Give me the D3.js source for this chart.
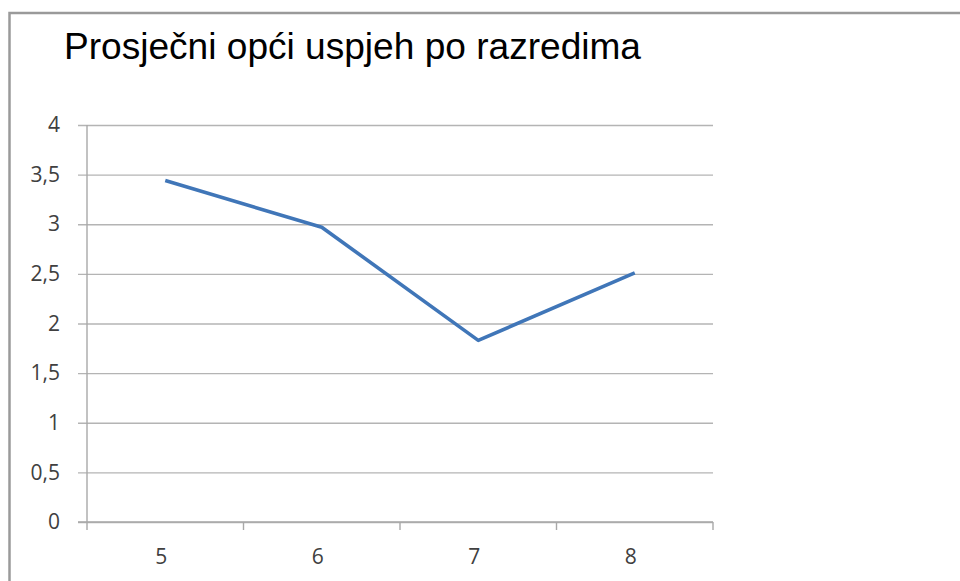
<!DOCTYPE html>
<html>
<head>
<meta charset="utf-8">
<script src="https://cdn.jsdelivr.net/npm/d3@7"></script>
<style>
  html, body { margin: 0; padding: 0; background: #fff; }
  svg { display: block; }
</style>
</head>
<body>
<svg id="chart" width="960" height="581"></svg>
<script>
// Average overall grade per school year (razred)
const title = "Prosječni opći uspjeh po razredima";
const categories = ["5", "6", "7", "8"];
const values = [3.44, 2.97, 1.83, 2.51];
const yTicks = [0, 0.5, 1, 1.5, 2, 2.5, 3, 3.5, 4];

const svg = d3.select("#chart");
const plot = { left: 87, right: 713, top: 125, bottom: 522 };

// Outer chart frame (continues past the right and bottom edges)
svg.append("rect")
  .attr("x", 9.5).attr("y", 13)
  .attr("width", 1000).attr("height", 1000)
  .attr("fill", "#fff")
  .attr("stroke", "#9a9a9a")
  .attr("stroke-width", 2.5);

svg.append("text")
  .attr("x", 64).attr("y", 59)
  .attr("font-family", "Liberation Sans, Arial, sans-serif")
  .attr("font-size", 36)
  .attr("textLength", 577)
  .attr("lengthAdjust", "spacingAndGlyphs")
  .attr("fill", "#000")
  .text(title);

const x = d3.scaleBand().domain(categories)
  .range([plot.left, plot.right]).paddingInner(0).paddingOuter(0);
const y = d3.scaleLinear().domain([0, 4]).range([plot.bottom, plot.top]);

const fmt = d => String(d).replace(".", ",");

// Horizontal gridlines with short left ticks
const yAxis = d3.axisLeft(y).tickValues(yTicks).tickFormat(fmt)
  .tickSize(-(plot.right - plot.left)).tickSizeOuter(0).tickPadding(27);
const gy = svg.append("g").attr("transform", `translate(${plot.left},0)`).call(yAxis);
gy.select(".domain").remove();
gy.selectAll(".tick line")
  .attr("x1", -9)
  .attr("stroke", "#b4b4b4").attr("stroke-width", 1.4);
gy.selectAll(".tick text")
  .attr("font-family", "Open Sans, sans-serif")
  .attr("font-size", 21)
  .attr("fill", "#404040");

// Vertical value axis line
svg.append("line")
  .attr("x1", plot.left).attr("x2", plot.left)
  .attr("y1", plot.top).attr("y2", plot.bottom + 8)
  .attr("stroke", "#a8a8a8").attr("stroke-width", 1.4);

// Category axis with boundary ticks
const gx = svg.append("g").attr("transform", `translate(0,${plot.bottom})`);
gx.append("line")
  .attr("x1", plot.left - 9).attr("x2", plot.right)
  .attr("stroke", "#a8a8a8").attr("stroke-width", 1.6);
const bounds = categories.map(c => x(c)).concat([x(categories[categories.length - 1]) + x.bandwidth()]);
gx.selectAll("line.b").data(bounds.slice(1)).join("line")
  .attr("class", "b")
  .attr("x1", d => d).attr("x2", d => d)
  .attr("y1", 0).attr("y2", 8)
  .attr("stroke", "#a8a8a8").attr("stroke-width", 1.4);
gx.selectAll("text").data(categories).join("text")
  .attr("x", d => x(d) + x.bandwidth() / 2 - 4)
  .attr("y", 42)
  .attr("text-anchor", "middle")
  .attr("font-family", "Open Sans, sans-serif")
  .attr("font-size", 21)
  .attr("fill", "#404040")
  .text(d => d);

// Data line
const line = d3.line()
  .x((d, i) => x(categories[i]) + x.bandwidth() / 2)
  .y(d => y(d));
svg.append("path")
  .datum(values)
  .attr("d", line)
  .attr("fill", "none")
  .attr("stroke", "#4076b8")
  .attr("stroke-width", 3.6)
  .attr("stroke-linejoin", "round")
  .attr("stroke-linecap", "butt");
</script>
</body>
</html>
